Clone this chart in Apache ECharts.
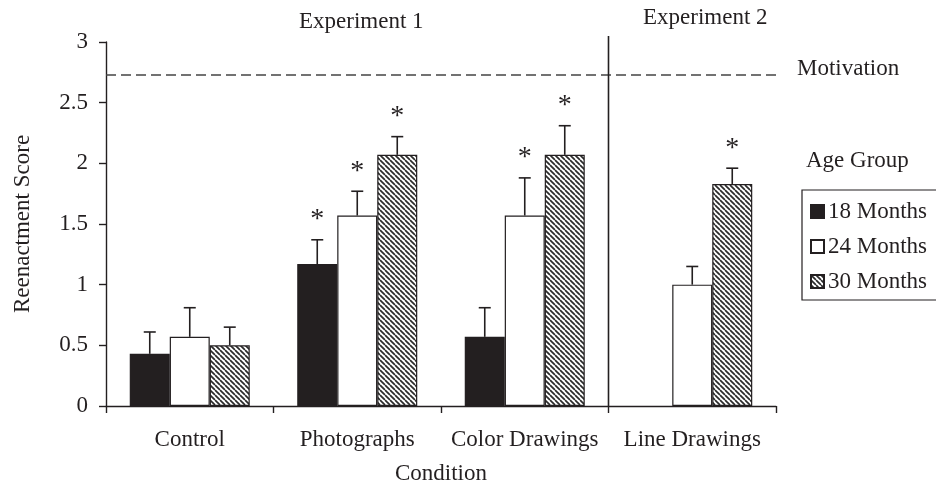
<!DOCTYPE html>
<html>
<head>
<meta charset="utf-8">
<script src="https://cdn.jsdelivr.net/npm/echarts@6/dist/echarts.min.js"></script>
<style>
html,body{margin:0;padding:0;background:#fff;}
#c{width:936px;height:490px;}
</style>
</head>
<body>
<div id="c"></div>
<script>
// ---- data ----
var categories = ['Control', 'Photographs', 'Color Drawings', 'Line Drawings'];
var seriesNames = ['18 Months', '24 Months', '30 Months'];
var values18 = [0.43, 1.17, 0.57, null];
var values24 = [0.57, 1.57, 1.57, 1.00];
var values30 = [0.50, 2.07, 2.07, 1.83];
var err18 = [0.18, 0.20, 0.24, null];
var err24 = [0.24, 0.20, 0.31, 0.15];
var err30 = [0.15, 0.15, 0.24, 0.13];
var sig18 = [0, 1, 0, 0];
var sig24 = [0, 1, 1, 0];
var sig30 = [0, 1, 1, 1];
var motivationLevel = 2.73;
var yTicks = {min: 0, max: 3, interval: 0.5};
var experimentLabels = ['Experiment 1', 'Experiment 2'];
var experiment1Count = 3;

// ---- styles ----
var FONT = 'Liberation Serif';
var INK = '#231f20';
var BAR_W = 40;

function makeHatch() {
  var p = 5;
  var cv = document.createElement('canvas');
  cv.width = p; cv.height = p;
  var ctx = cv.getContext('2d');
  ctx.fillStyle = '#ffffff';
  ctx.fillRect(0, 0, p, p);
  ctx.strokeStyle = '#2b2b2b';
  ctx.lineWidth = 1.7;
  for (var k = -p; k <= p; k += p) {
    ctx.beginPath();
    ctx.moveTo(k, 0);
    ctx.lineTo(k + p, p);
    ctx.stroke();
  }
  return cv;
}
var hatch = {image: makeHatch(), repeat: 'repeat'};

var chart = echarts.init(document.getElementById('c'), null, {renderer: 'canvas'});

function errData(vals, errs, sigs) {
  var out = [];
  for (var i = 0; i < vals.length; i++) {
    if (vals[i] == null) continue;
    out.push([i, vals[i], errs[i], sigs[i]]);
  }
  return out;
}

function errSeries(name, vals, errs, sigs, slot) {
  return {
    type: 'custom',
    name: name,
    z: 5,
    clip: false,
    data: errData(vals, errs, sigs),
    encode: {x: 0, y: 1},
    renderItem: function (params, api) {
      var ci = api.value(0);
      var v = api.value(1);
      var e = api.value(2);
      var s = api.value(3);
      var base = api.coord([ci, v]);
      var top = api.coord([ci, v + e]);
      var x = base[0] + slot * BAR_W;
      var ls = {stroke: INK, lineWidth: 1.6};
      var children = [
        {type: 'line', shape: {x1: x, y1: base[1], x2: x, y2: top[1]}, style: ls},
        {type: 'line', shape: {x1: x - 6, y1: top[1], x2: x + 6, y2: top[1]}, style: ls}
      ];
      if (s) {
        children.push({
          type: 'text',
          style: {text: '*', x: x, y: top[1] - 20, fill: INK,
                  font: '28px "' + FONT + '"', textAlign: 'center', textVerticalAlign: 'middle'}
        });
      }
      return {type: 'group', children: children};
    }
  };
}

var option = {
  animation: false,
  backgroundColor: '#ffffff',
  textStyle: {fontFamily: FONT, color: INK},
  grid: {left: 106, right: 160, top: 42, bottom: 83},
  legend: {
    data: seriesNames,
    orient: 'vertical',
    left: 802,
    top: 190,
    width: 140,
    padding: [10, 12, 7, 8],
    itemGap: 12,
    itemWidth: 13,
    itemHeight: 13,
    icon: 'rect',
    borderColor: INK,
    borderWidth: 1.2,
    textStyle: {fontFamily: FONT, fontSize: 23, color: INK, padding: [0, 0, 0, -1]}
  },
  xAxis: {
    type: 'category',
    data: categories,
    name: 'Condition',
    nameLocation: 'middle',
    nameGap: 56,
    nameTextStyle: {fontFamily: FONT, fontSize: 23, color: INK},
    axisLine: {lineStyle: {color: INK, width: 1.4}},
    axisTick: {show: true, interval: 0, length: 7, lineStyle: {color: INK, width: 1.4}},
    axisLabel: {interval: 0, fontFamily: FONT, fontSize: 23, color: INK, margin: 22},
    splitLine: {show: false}
  },
  yAxis: {
    type: 'value',
    min: yTicks.min,
    max: yTicks.max,
    interval: yTicks.interval,
    name: 'Reenactment Score',
    nameLocation: 'middle',
    nameGap: 72,
    nameTextStyle: {fontFamily: FONT, fontSize: 23, color: INK},
    axisLine: {show: true, lineStyle: {color: INK, width: 1.4}},
    axisTick: {show: true, length: 7, lineStyle: {color: INK, width: 1.4}},
    axisLabel: {fontFamily: FONT, fontSize: 23, color: INK, margin: 18},
    splitLine: {show: false}
  },
  graphic: [
    {type: 'text', left: 299, top: 10, style: {text: experimentLabels[0], font: '23px "' + FONT + '"', fill: INK}},
    {type: 'text', left: 643, top: 6, style: {text: experimentLabels[1], font: '23px "' + FONT + '"', fill: INK}},
    {type: 'text', left: 797, top: 57, style: {text: 'Motivation', font: '23px "' + FONT + '"', fill: INK}},
    {type: 'text', left: 806, top: 149, style: {text: 'Age Group', font: '23px "' + FONT + '"', fill: INK}}
  ],
  series: [
    {
      type: 'bar', name: seriesNames[0], data: values18,
      barWidth: BAR_W, barGap: '0%',
      itemStyle: {color: INK, borderColor: INK, borderWidth: 1.2},
      markLine: {
        silent: true, symbol: 'none', label: {show: false},
        lineStyle: {color: '#444', type: [10, 5], width: 1.6},
        data: [{yAxis: motivationLevel}]
      }
    },
    {
      type: 'bar', name: seriesNames[1], data: values24,
      barWidth: BAR_W, barGap: '0%',
      itemStyle: {color: '#ffffff', borderColor: INK, borderWidth: 1.2}
    },
    {
      type: 'bar', name: seriesNames[2], data: values30,
      barWidth: BAR_W, barGap: '0%',
      itemStyle: {color: hatch, borderColor: INK, borderWidth: 1.2}
    },
    errSeries('e18', values18, err18, sig18, -1),
    errSeries('e24', values24, err24, sig24, 0),
    errSeries('e30', values30, err30, sig30, 1),
    {
      type: 'custom',
      name: 'divider',
      clip: false,
      z: 6,
      data: [[experiment1Count - 1, yTicks.max]],
      encode: {x: 0, y: 1},
      renderItem: function (params, api) {
        var p = api.coord([api.value(0), api.value(1)]);
        var b = api.coord([api.value(0), 0]);
        var half = api.size([1, 0])[0] / 2;
        var x = p[0] + half;
        return {type: 'line', shape: {x1: x, y1: b[1], x2: x, y2: p[1] - 6},
                style: {stroke: INK, lineWidth: 1.6}};
      }
    }
  ]
};
chart.setOption(option);
</script>
</body>
</html>
